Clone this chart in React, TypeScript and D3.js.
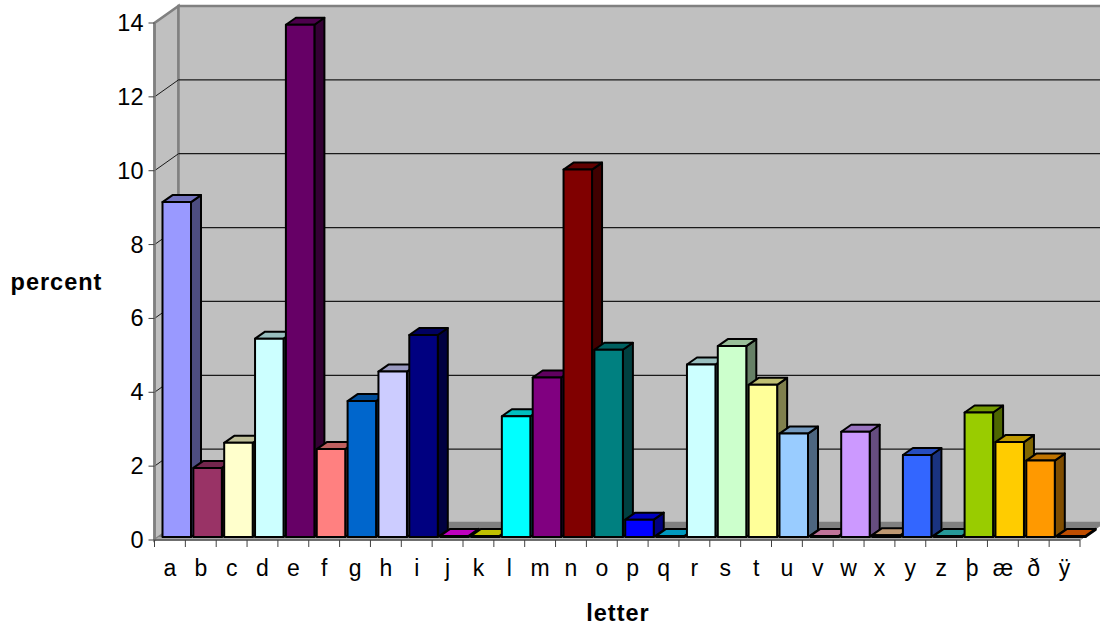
import React, { useEffect, useRef } from "react";
import * as d3 from "d3";

// Letter frequencies, drawn as one extruded column per letter.
const letters = ["a","b","c","d","e","f","g","h","i","j","k","l","m","n","o","p","q","r","s","t","u","v","w","x","y","z","þ","æ","ð","ÿ"];
const percents = [9.07,1.87,2.55,5.37,13.87,2.38,3.68,4.48,5.47,0.03,0.03,3.27,4.32,9.95,5.07,0.47,0.03,4.67,5.17,4.12,2.8,0.03,2.85,0.05,2.22,0.03,3.37,2.57,2.07,0.03];
const colors = ["#9999FF","#993366","#FFFFCC","#CCFFFF","#660066","#FF8080","#0066CC","#CCCCFF","#000080","#FF00FF","#FFFF00","#00FFFF","#800080","#800000","#008080","#0000FF","#00CCFF","#CCFFFF","#CCFFCC","#FFFF99","#99CCFF","#FF99CC","#CC99FF","#FFCC99","#3366FF","#33CCCC","#99CC00","#FFCC00","#FF9900","#FF6600"];
const yTicks = [0,2,4,6,8,10,12,14];

const FONT = "Liberation Sans, Arial, sans-serif";
const DEPTH_X = 24;
const DEPTH_Y = 17;
const BAR_DX = 10;
const BAR_DY = 7;

const shade = (c: string, k: number) => {
  const r = d3.rgb(c);
  return d3.rgb(r.r * k, r.g * k, r.b * k).formatHex();
};
const pts = (p: number[][]) => p.map((q) => q.join(",")).join(" ");

export default function App() {
  const ref = useRef<SVGSVGElement>(null);
  useEffect(() => {
    const svg = d3.select(ref.current);
    svg.selectAll("*").remove();
    const x = d3.scaleBand<string>().domain(letters).range([154.5, 1080]);
    const y = d3.scaleLinear().domain([0, 14]).range([540, 23]);
    const x0 = x.range()[0], x1 = x.range()[1];
    const yB = y(0), yT = y(14);
    const base = yB - 3;

    // walls and floor
    svg.append("polygon").attr("points", pts([[x0,yB],[x0,yT],[x0+DEPTH_X,yT-DEPTH_Y],[x0+DEPTH_X,yB-DEPTH_Y]]))
      .attr("fill","#c0c0c0").attr("stroke","#808080").attr("stroke-width",2.5);
    svg.append("rect").attr("x",x0+DEPTH_X).attr("y",yT-DEPTH_Y).attr("width",x1-x0).attr("height",yB-yT)
      .attr("fill","#c0c0c0").attr("stroke","#808080").attr("stroke-width",2.5);
    svg.append("polygon").attr("points", pts([[x0,yB],[x0+DEPTH_X,yB-DEPTH_Y],[x1+DEPTH_X,yB-DEPTH_Y],[x1,yB]]))
      .attr("fill","#808080").attr("stroke","#808080").attr("stroke-width",1);
    svg.append("polygon").attr("points", pts([[x0,yB],[x0+4,base],[x1+4,base],[x1,yB]])).attr("fill","#a8a8a8");

    // gridlines on the back and side walls
    yTicks.slice(1, -1).forEach((t) => {
      svg.append("line").attr("x1",x0+DEPTH_X).attr("x2",x1+DEPTH_X).attr("y1",y(t)-DEPTH_Y).attr("y2",y(t)-DEPTH_Y)
        .attr("stroke","#1a1a1a").attr("stroke-width",1.2);
      svg.append("line").attr("x1",x0).attr("x2",x0+DEPTH_X).attr("y1",y(t)).attr("y2",y(t)-DEPTH_Y)
        .attr("stroke","#1a1a1a").attr("stroke-width",1);
    });

    // axes
    svg.append("line").attr("x1",x0).attr("x2",x0).attr("y1",yT).attr("y2",yB).attr("stroke","#808080").attr("stroke-width",2.5);
    svg.append("line").attr("x1",x0).attr("x2",x1).attr("y1",yB).attr("y2",yB).attr("stroke","#555").attr("stroke-width",1.5);
    yTicks.forEach((t) => {
      svg.append("line").attr("x1",x0-6).attr("x2",x0).attr("y1",y(t)).attr("y2",y(t)).attr("stroke","#404040").attr("stroke-width",1);
      svg.append("text").attr("x",x0-11).attr("y",y(t)+8).attr("text-anchor","end").attr("font-family",FONT).attr("font-size",23.5).attr("fill","#000").text(t);
    });
    [...letters, ""].forEach((_, i) => {
      const tx = x0 + i * x.step();
      svg.append("line").attr("x1",tx).attr("x2",tx).attr("y1",yB).attr("y2",yB+7).attr("stroke","#404040").attr("stroke-width",1);
    });
    letters.forEach((l) => {
      svg.append("text").attr("x",x(l)! + x.step()/2).attr("y",576).attr("text-anchor","middle").attr("font-family",FONT).attr("font-size",23).attr("fill","#000").text(l);
    });

    // columns, left to right so each one overlaps its left neighbour's side
    const v = d3.scaleLinear().domain([0, 14]).range([base, base - (yB - yT)]);
    letters.forEach((l, i) => {
      const c = colors[i];
      const left = x(l)! + 8;
      const right = left + 28.5;
      const top = v(percents[i]);
      const g = svg.append("g").attr("stroke","#000").attr("stroke-width",2).attr("stroke-linejoin","round");
      g.append("polygon").attr("points",pts([[right,top],[right+BAR_DX,top-BAR_DY],[right+BAR_DX,base-BAR_DY],[right,base]])).attr("fill",shade(c,0.5));
      g.append("polygon").attr("points",pts([[left,top],[left+BAR_DX,top-BAR_DY],[right+BAR_DX,top-BAR_DY],[right,top]])).attr("fill",shade(c,0.75));
      g.append("rect").attr("x",left).attr("y",top).attr("width",right-left).attr("height",base-top).attr("fill",c);
    });

    // axis titles
    svg.append("text").attr("x",56.5).attr("y",290).attr("text-anchor","middle").attr("font-family",FONT).attr("font-size",23.5).attr("letter-spacing",1).attr("font-weight","bold").text("percent");
    svg.append("text").attr("x",618).attr("y",621).attr("text-anchor","middle").attr("font-family",FONT).attr("font-size",23.5).attr("letter-spacing",1).attr("font-weight","bold").text("letter");
  }, []);
  return <svg ref={ref} width={1100} height={629} style={{ position: "absolute", left: 0, top: 0, background: "#fff" }} />;
}
